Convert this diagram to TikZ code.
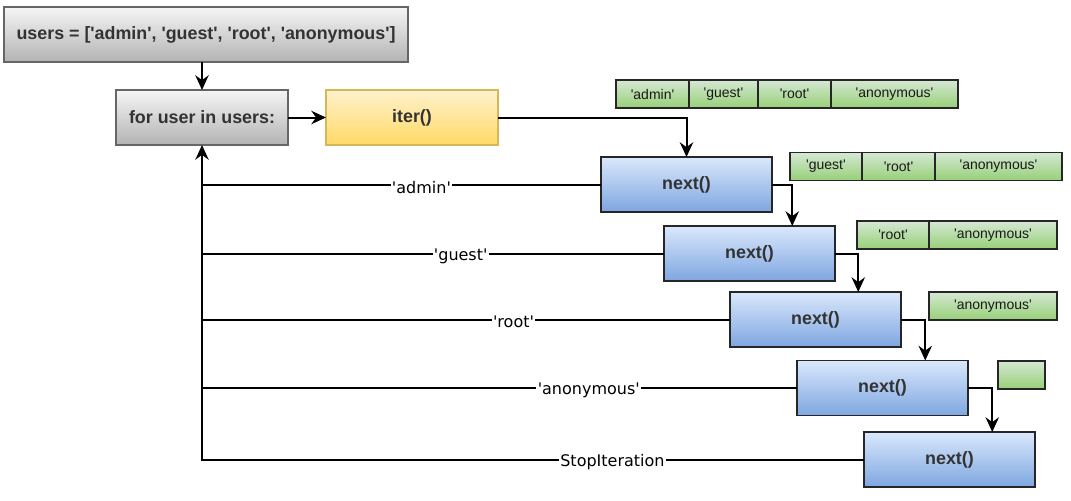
\documentclass[tikz,border=0pt]{standalone}
\usepackage{fontspec}
\setmainfont{Liberation Sans}[Ligatures=TeXOff]
\newfontfamily\labelfont{DejaVu Sans}[Ligatures=TeXOff]
\usetikzlibrary{arrows.meta,positioning,calc}

\definecolor{txtgray}{HTML}{333333}
\definecolor{boxline}{HTML}{666666}
\definecolor{grayTop}{HTML}{F5F5F5}
\definecolor{grayBot}{HTML}{B3B3B3}
\definecolor{yelTop}{HTML}{FFF2CC}
\definecolor{yelBot}{HTML}{FFD966}
\definecolor{yelLine}{HTML}{D6B656}
\definecolor{bluTop}{HTML}{DAE8FC}
\definecolor{bluBot}{HTML}{7EA6E0}
\definecolor{grnTop}{HTML}{D5E8D4}
\definecolor{grnBot}{HTML}{97D077}

\tikzset{
  box/.style={draw, line width=1.3pt, minimum height=55*0.75pt, outer sep=0pt,
    text=txtgray, font=\fontsize{13.4pt}{15pt}\selectfont\bfseries},
  graybox/.style={box, draw=boxline, top color=grayTop, bottom color=grayBot},
  iterbox/.style={box, draw=yelLine, top color=yelTop, bottom color=yelBot, minimum width=172*0.75pt},
  nextbox/.style={box, draw=black!85, top color=bluTop, bottom color=bluBot, minimum width=171*0.75pt},
  cell/.style={draw=black!85, line width=1.1pt, minimum height=28*0.75pt, outer sep=0pt,
    top color=grnTop, bottom color=grnBot, text=black!90, font=\fontsize{10.5pt}{11pt}\selectfont},
  flow/.style={line width=1.5pt, -{Stealth[length=11pt,width=10pt]}},
  back/.style={line width=1.5pt},
  val/.style={fill=white, inner sep=1pt, yshift=-2pt, font=\labelfont\fontsize{12pt}{13pt}\selectfont}
}

\begin{document}
\begin{tikzpicture}[x=0.75pt, y=-0.75pt]
\useasboundingbox (0,0) rectangle (1071,500);

% loop and the iterator
\node[graybox, minimum width=404*0.75pt] (users) at (206,34.5) {users = ['admin', 'guest', 'root', 'anonymous']};
\node[graybox, minimum width=172*0.75pt] (for) at (202,117.5) {for user in users:};
\node[iterbox] (iter) at (412,117.5) {iter()};

% next() calls
\foreach \i/\x/\y in {1/686.5/184.5, 2/749.5/253.5, 3/815.5/319.5, 4/882.5/388, 5/949.5/459.5} {
  \node[nextbox] (n\i) at (\x,\y) {next()};
}

% what is left in the iterator
\node[cell, minimum width=73*0.75pt] (a1) at (652.5,94) {'admin'};
\node[cell, minimum width=69*0.75pt, right=0pt of a1] (a2) {'guest'};
\node[cell, minimum width=73*0.75pt, right=0pt of a2] (a3) {'root'};
\node[cell, minimum width=127*0.75pt, right=0pt of a3] (a4) {'anonymous'};

\node[cell, minimum width=72*0.75pt] (b2) at (826,166.5) {'guest'};
\node[cell, minimum width=73*0.75pt, right=0pt of b2] (b3) {'root'};
\node[cell, minimum width=127*0.75pt, right=0pt of b3] (b4) {'anonymous'};

\node[cell, minimum width=72*0.75pt] (c3) at (893,235) {'root'};
\node[cell, minimum width=128*0.75pt, right=0pt of c3] (c4) {'anonymous'};

\node[cell, minimum width=128*0.75pt] (d4) at (993,306) {'anonymous'};

\node[cell, minimum width=47*0.75pt] (e0) at (1021.5,375) {};

% forward arrows
\draw[flow] (users.south -| for.north) -- (for.north);
\draw[flow] (for) -- (iter);
\draw[flow] (iter.east) -| (n1.north);
\foreach \i/\j in {1/2, 2/3, 3/4, 4/5} {
  \draw[flow] (n\i.east) -| ($(n\j.north)!0.5!(n\j.north east)$);
}

% values handed back to the loop
\draw[back] (n1.west) -- node[val, pos=0.45] {'admin'} (n1.west -| for.south);
\draw[back] (n2.west) -- node[val, pos=0.44] {'guest'} (n2.west -| for.south);
\draw[back] (n3.west) -- node[val, pos=0.41] {'root'} (n3.west -| for.south);
\draw[back] (n4.west) -- node[val, pos=0.35] {'anonymous'} (n4.west -| for.south);
\draw[flow] (n5.west) -- node[val, pos=0.38] {StopIteration} (n5.west -| for.south) -- (for.south);
\end{tikzpicture}
\end{document}
